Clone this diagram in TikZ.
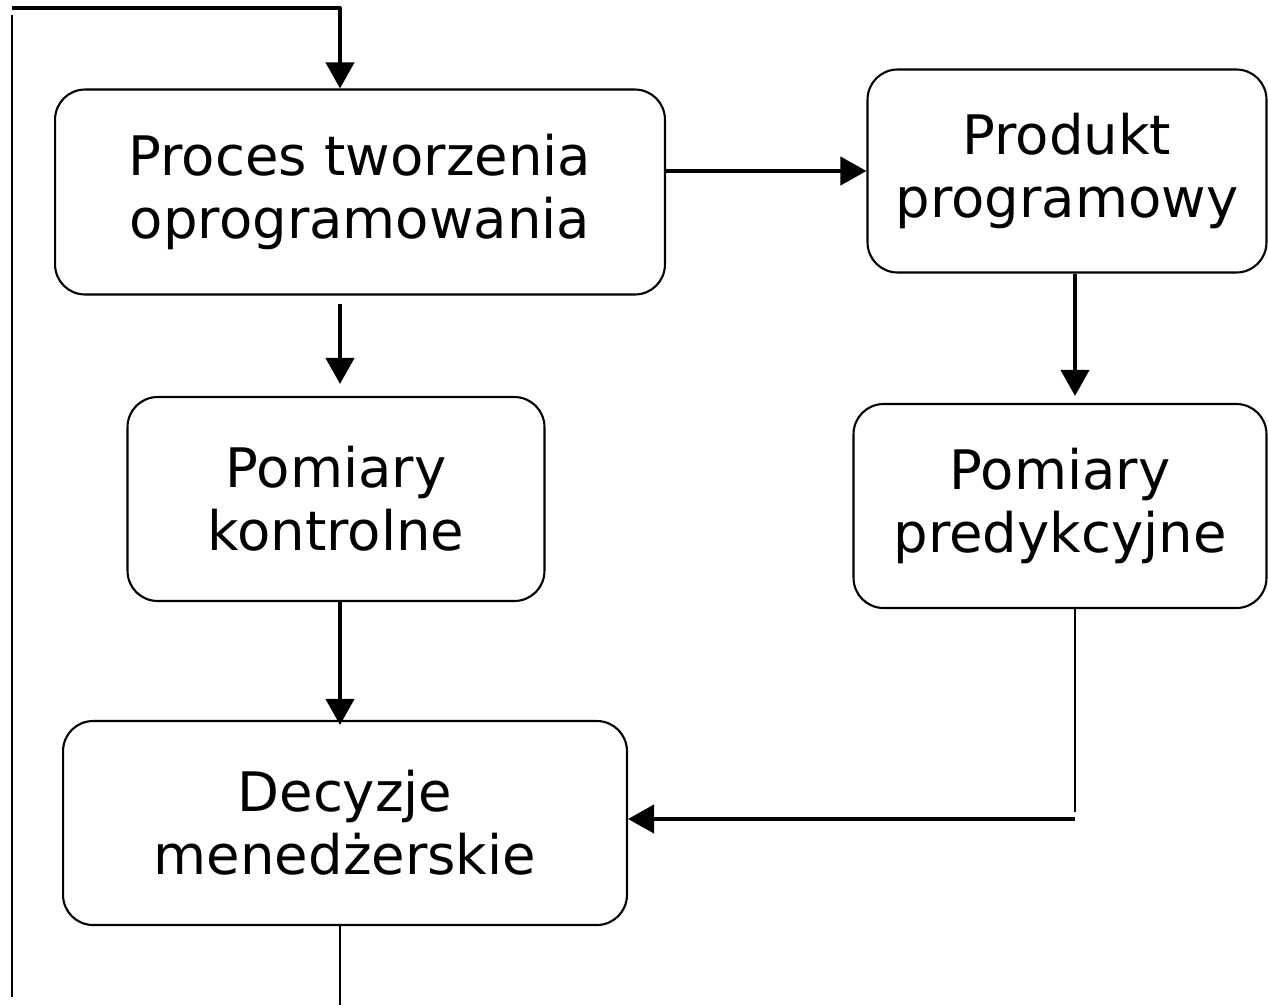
\documentclass[tikz,border=0pt]{standalone}
\usepackage{fontspec}
\setmainfont{DejaVu Sans}
\usetikzlibrary{arrows.meta,positioning}

\begin{document}
\begin{tikzpicture}[
    x=0.02cm, y=-0.02cm,
    block/.style={rectangle, draw, line width=1.2pt, rounded corners=0.6cm, text centered, align=center, inner sep=0pt, font=\fontsize{31}{36}\selectfont},
    arrow/.style={line width=2.3pt, line join=round, -{Triangle[length=0.52cm, width=0.56cm]}},
    line/.style={line width=1.5pt}
]
\useasboundingbox (0,0) rectangle (1268,1005);

% Boxes
\node[block, minimum width=12.2cm, minimum height=4.1cm] (proc) at (360,192) {Proces tworzenia\\oprogramowania};
\node[block, minimum width=7.98cm, minimum height=4.06cm] (prod) at (1067,171) {Produkt\\programowy};
\node[block, minimum width=8.34cm, minimum height=4.08cm] (kontr) at (336,499) {Pomiary\\kontrolne};
\node[block, minimum width=8.26cm, minimum height=4.08cm] (pred) at (1060,506) {Pomiary\\predykcyjne};
\node[block, minimum width=11.28cm, minimum height=4.08cm] (dec) at (345,823) {Decyzje\\menedżerskie};

% Feedback loop
\coordinate (loopTop) at (12,8);
\coordinate (loopStart) at (12,15);
\coordinate (loopEnd) at (12,997);
\coordinate (inTop) at (340,8);
\draw[line] (loopStart) -- (loopEnd);
\draw[arrow] (loopTop) -- (inTop) -- (inTop |- proc.north);

% Arrows between boxes
\draw[arrow] (prod.west -| proc.east) -- (prod.west);
\draw[arrow, shorten <=0.16cm, shorten >=0.24cm] (inTop |- proc.south) -- (inTop |- kontr.north);
\draw[arrow, shorten >=0.14cm] ([xshift=0.16cm]prod.south) -- ([xshift=0.16cm]prod.south |- pred.north);
\draw[arrow, shorten >=-0.1cm] (inTop |- kontr.south) -- (inTop |- dec.north);

% Predictive measures to decisions
\coordinate (predCorner) at (1075,819);
\draw[line] (predCorner |- pred.south) -- ([yshift=0.14cm]predCorner);
\draw[arrow] (predCorner) -- (predCorner -| dec.east);

% Output of decisions
\coordinate (decOut) at (340,1005);
\draw[line] (decOut |- dec.south) -- (decOut);

\end{tikzpicture}
\end{document}
